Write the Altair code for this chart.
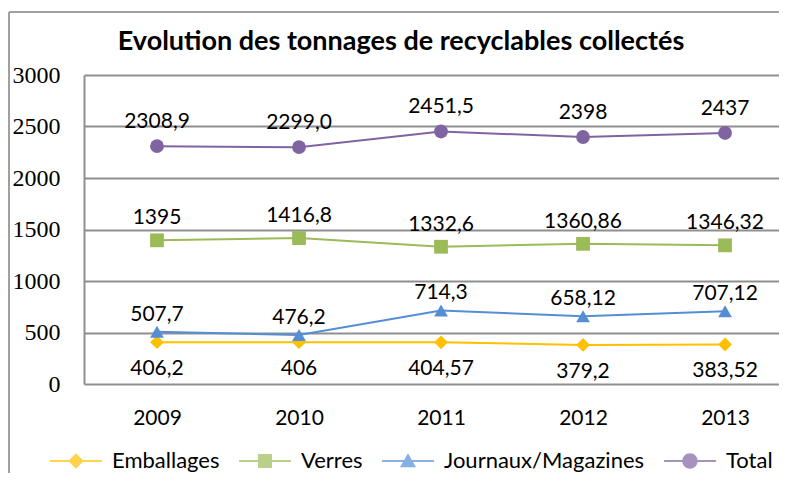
import altair as alt
import pandas as pd

title_text = ["Evolution des tonnages de recyclables collectés"]
years = [2009, 2010, 2011, 2012, 2013]
series = ["Emballages", "Verres", "Journaux/Magazines", "Total"]
emballages = ["406,2", "406", "404,57", "379,2", "383,52"]
verres = ["1395", "1416,8", "1332,6", "1360,86", "1346,32"]
journaux = ["507,7", "476,2", "714,3", "658,12", "707,12"]
total = ["2308,9", "2299,0", "2451,5", "2398", "2437"]
colors = ["#FFC000", "#9BBB59", "#558ED5", "#8064A2"]
shapes = ["diamond", "square", "triangle-up", "circle"]
y_ticks = [0, 500, 1000, 1500, 2000, 2500, 3000]

rows = []
for name, labels in zip(series, [emballages, verres, journaux, total]):
    for yr, lab in zip(years, labels):
        rows.append({"year": yr, "series": name, "label": lab,
                     "value": float(lab.replace(",", "."))})
df = pd.DataFrame(rows)

# legend symbols: line segment + marker
bar = "M-3.7,-0.15H3.7V0.15H-3.7Z "
legend_paths = [
    bar + "M0,-1.1L1.1,0L0,1.1L-1.1,0Z",
    bar + "M-1,-1H1V1H-1Z",
    bar + "M0,-1.1L1.15,0.9H-1.15Z",
    bar + "M-1.1,0A1.1,1.1,0,1,1,1.1,0A1.1,1.1,0,1,1,-1.1,0Z",
]

GRID = "#8f8f8f"

x_enc = alt.X("year:Q", scale=alt.Scale(domain=[2008.486, 2013.38], nice=False, zero=False),
              axis=alt.Axis(values=years, format="d", title=None, grid=False, ticks=False,
                            domain=False, labelFont="Lato", labelFontSize=21,
                            labelColor="black", labelPadding=23))
y_enc = alt.Y("value:Q", scale=alt.Scale(domain=[0, 3000], nice=False),
              axis=alt.Axis(values=y_ticks, format="d", title=None, ticks=False, domain=True,
                            domainColor=GRID, domainWidth=2, grid=True, gridColor=GRID,
                            gridWidth=2, labelFont="Liberation Sans Narrow",
                            labelFontSize=24, labelColor="black", labelPadding=24))

base = alt.Chart(df).encode(x=x_enc, y=y_enc)
color_scale = alt.Scale(domain=series, range=colors)

lines = base.mark_line(strokeWidth=2).encode(
    color=alt.Color("series:N", scale=color_scale, legend=None))
points = base.mark_point(filled=True, size=190, opacity=1).encode(
    color=alt.Color("series:N", scale=color_scale, legend=None),
    shape=alt.Shape("series:N", scale=alt.Scale(domain=series, range=shapes), legend=None))

leg = dict(orient="none", legendX=-19, legendY=375, direction="horizontal", title=None,
           symbolSize=196, labelFont="Lato", labelFontSize=22, labelColor="black",
           labelOffset=25, columnPadding=19, symbolStrokeWidth=0, labelLimit=400)
legend_layer = base.transform_filter("false").mark_point(filled=True).encode(
    color=alt.Color("series:N", scale=color_scale, legend=alt.Legend(**leg)),
    shape=alt.Shape("series:N", scale=alt.Scale(domain=series, range=legend_paths),
                    legend=alt.Legend(**leg)))

offsets = {"Emballages": 27, "Verres": -22, "Journaux/Magazines": -17, "Total": -24}
texts = []
for name in series:
    texts.append(base.transform_filter(alt.datum.series == name).mark_text(
        dy=offsets[name], font="Lato", fontSize=21, color="black").encode(text="label:N"))

title_df = pd.DataFrame({"t": title_text})
title = alt.Chart(title_df).mark_text(font="Lato", fontSize=27, fontWeight="bold",
                                      color="black", align="center",
                                      baseline="alphabetic").encode(
    text="t:N", x=alt.value(317), y=alt.value(-25))

frame_df = pd.DataFrame({"k": [0]})
frame_left = alt.Chart(frame_df).mark_rule(color="#a0a0a0", strokeWidth=2).encode(
    x=alt.value(-75), y=alt.value(-63), y2=alt.value(400))
frame_top = alt.Chart(frame_df).mark_rule(color="#a0a0a0", strokeWidth=2).encode(
    x=alt.value(-75), x2=alt.value(720), y=alt.value(-63))

chart = alt.layer(lines, points, *texts, legend_layer, title, frame_left, frame_top).resolve_scale(
    color="independent", shape="independent"
).properties(
    width=695, height=309,
    autosize=alt.AutoSizeParams(type="none"),
    padding={"left": 76, "top": 67, "right": 0, "bottom": 89},
).configure_view(stroke=None)

chart.save("out.html", embed_options={"renderer": "svg", "actions": False})
